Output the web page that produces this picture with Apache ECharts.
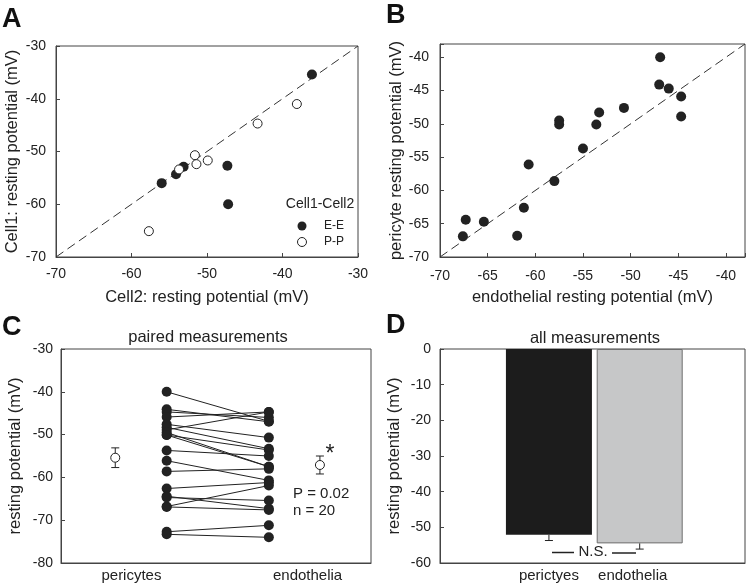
<!DOCTYPE html>
<html><head><meta charset="utf-8">
<script src="https://cdn.jsdelivr.net/npm/echarts@6/dist/echarts.min.js"></script>
<style>html,body{margin:0;padding:0;background:#fff}#c{width:748px;height:584px}</style>
</head><body><div id="c"></div>
<script>
// ---------- Panel A: cell pairs (Cell2 on x, Cell1 on y) ----------
const aEEx = [-36.1, -56.0, -54.1, -53.1, -47.3, -47.2];
const aEEy = [-35.4, -56.0, -54.3, -52.9, -52.7, -60.0];
const aPPx = [-38.1, -43.3, -51.6, -51.4, -49.9, -53.7, -57.7];
const aPPy = [-41.0, -44.7, -50.7, -52.4, -51.7, -53.4, -65.1];
const aIdentity = [-70, -30];
const aLegend = ['E-E', 'P-P'];

// ---------- Panels B & C: paired pericyte / endothelial measurements ----------
const pericyte    = [-40.0, -44.1, -44.7, -45.9, -48.9, -47.6, -48.3, -50.1, -49.5, -50.1, -53.7, -56.1, -58.6, -62.6, -66.8, -64.4, -64.7, -66.9, -72.7, -73.3];
const endothelial = [-46.9, -47.0, -46.0, -44.7, -44.7, -50.7, -53.3, -53.6, -57.5, -57.5, -55.0, -60.7, -58.0, -61.2, -61.9, -67.3, -65.4, -67.6, -71.2, -74.0];
const bIdentity = [-70, -38];

// Panel C layout positions on its hidden x scale
const cLabelX = [2, 7];
const cLabels = ['pericytes', 'endothelia'];
const cPairX = [3.0, 5.9];
const cMeanX = [1.54, 7.35];
const cMeans = [-55.4, -57.1];
const cSEM = [2.3, 2.1];

// ---------- Panel D: all measurements ----------
const dLabelX = [6, 11];
const dCategories = ['perictyes', 'endothelia'];
const dMeans = [-52.1, -54.5];
const dSEM = [1.6, 1.6];

const FONT = '"Liberation Sans", Arial, sans-serif';
const INK = '#222';
const FRAME = '#444';
const NAME_SIZE = 16.5;
const TICK_SIZE = 14;

function lab(margin, extra) {
  return Object.assign({ color: INK, fontSize: TICK_SIZE, fontFamily: FONT, margin: margin }, extra || {});
}
function axis(gi, min, max, interval, extra) {
  return Object.assign({
    type: 'value', gridIndex: gi, min: min, max: max, interval: interval,
    axisLine: { show: true, onZero: false, lineStyle: { color: FRAME, width: 1 } },
    axisTick: { show: true, inside: true, length: 4, lineStyle: { color: FRAME } },
    splitLine: { show: false },
    axisLabel: lab(10),
    nameLocation: 'middle',
    nameTextStyle: { color: INK, fontSize: NAME_SIZE, fontFamily: FONT }
  }, extra || {});
}
const mult5 = v => (Math.round(v) % 5 === 0 ? String(v) : '');

const grids = [
  { left: 56, top: 46, width: 302, height: 211 },
  { left: 440, top: 44, width: 305, height: 213 },
  { left: 61, top: 349, width: 310, height: 214 },
  { left: 440, top: 349, width: 305, height: 214 }
].map(g => Object.assign({ show: true, borderColor: FRAME, borderWidth: 1, backgroundColor: 'transparent' }, g));

const xAxes = [
  axis(0, -70, -30, 10, { name: 'Cell2: resting potential (mV)', nameGap: 32, axisLabel: lab(10) }),
  axis(1, -70, -38, 5, { name: 'endothelial resting potential (mV)', nameGap: 32, axisLabel: lab(12, { formatter: mult5 }) }),
  axis(2, 0, 8.8, 1, { axisTick: { show: false },
    axisLabel: lab(5, { fontSize: 15,
      formatter: v => { const i = cLabelX.indexOf(Math.round(v * 100) / 100); return i >= 0 ? cLabels[i] : ''; } }) }),
  axis(3, 0, 16.8, 1, { axisTick: { show: false },
    axisLabel: lab(5, { fontSize: 15,
      formatter: v => { const i = dLabelX.indexOf(Math.round(v * 100) / 100); return i === 1 ? '{e|' + dCategories[i] + '}' : (i === 0 ? dCategories[i] : ''); },
      rich: { e: { fontSize: 15, fontFamily: FONT, color: INK, padding: [0, 14, 0, 0] } } }) })
];
const yAxes = [
  axis(0, -70, -30, 10, { name: 'Cell1: resting potential (mV)', nameGap: 35, axisLabel: lab(10) }),
  axis(1, -70, -38, 5, { name: 'pericyte resting potential (mV)', nameGap: 29, axisLabel: lab(11, { formatter: mult5 }) }),
  axis(2, -80, -30, 10, { name: 'resting potential (mV)', nameGap: 37, axisLabel: lab(8) }),
  axis(3, -60, 0, 10, { name: 'resting potential (mV)', nameGap: 37, axisLabel: lab(9) })
];

const filled = { color: INK, opacity: 1 };
const open = { color: '#fff', borderColor: INK, borderWidth: 1, opacity: 1 };
const dashed = { color: '#333', width: 1, type: [9, 5] };

function errRender(caps) {
  return function (params, api) {
    const x = api.value(0);
    const p0 = api.coord([x, api.value(1)]);
    const p1 = api.coord([x, api.value(2)]);
    const w = 4;
    const st = { stroke: INK, lineWidth: 1 };
    const ch = [{ type: 'line', shape: { x1: p0[0], y1: p0[1], x2: p1[0], y2: p1[1] }, style: st }];
    if (caps === 2) ch.push({ type: 'line', shape: { x1: p0[0] - w, y1: p0[1], x2: p0[0] + w, y2: p0[1] }, style: st });
    ch.push({ type: 'line', shape: { x1: p1[0] - w, y1: p1[1], x2: p1[0] + w, y2: p1[1] }, style: st });
    return { type: 'group', children: ch };
  };
}

const series = [];
// A
series.push({ type: 'line', xAxisIndex: 0, yAxisIndex: 0, data: [[aIdentity[0], aIdentity[0]], [aIdentity[1], aIdentity[1]]],
  showSymbol: false, lineStyle: dashed, silent: true, z: 1 });
series.push({ name: aLegend[0], type: 'scatter', xAxisIndex: 0, yAxisIndex: 0, symbolSize: 10,
  data: aEEx.map((x, i) => [x, aEEy[i]]), itemStyle: filled, z: 3 });
series.push({ name: aLegend[1], type: 'scatter', xAxisIndex: 0, yAxisIndex: 0, symbolSize: 9,
  data: aPPx.map((x, i) => [x, aPPy[i]]), itemStyle: open, z: 4 });
// B
series.push({ type: 'line', xAxisIndex: 1, yAxisIndex: 1, data: [[bIdentity[0], bIdentity[0]], [bIdentity[1], bIdentity[1]]],
  showSymbol: false, lineStyle: dashed, silent: true, z: 1 });
series.push({ type: 'scatter', xAxisIndex: 1, yAxisIndex: 1, symbolSize: 10, clip: true,
  data: endothelial.map((x, i) => [x, pericyte[i]]), itemStyle: filled, z: 3 });
// C paired lines
pericyte.forEach((p, i) => {
  series.push({ type: 'line', xAxisIndex: 2, yAxisIndex: 2, data: [[cPairX[0], p], [cPairX[1], endothelial[i]]],
    showSymbol: false, lineStyle: { color: INK, width: 1 }, silent: true, z: 2 });
});
series.push({ type: 'scatter', xAxisIndex: 2, yAxisIndex: 2, symbolSize: 10, itemStyle: filled, z: 3,
  data: pericyte.map(p => [cPairX[0], p]).concat(endothelial.map(e => [cPairX[1], e])) });
series.push({ type: 'custom', xAxisIndex: 2, yAxisIndex: 2, renderItem: errRender(2), z: 3,
  data: cMeans.map((m, i) => [cMeanX[i], m - cSEM[i], m + cSEM[i]]) });
series.push({ type: 'scatter', xAxisIndex: 2, yAxisIndex: 2, symbolSize: 9, itemStyle: open, z: 4,
  data: cMeans.map((m, i) => [cMeanX[i], m]) });
// D bars
const dStyles = [{ color: '#1c1c1c' }, { color: '#c6c7c8', borderColor: '#6e6e6e', borderWidth: 1 }];
series.push({ type: 'bar', xAxisIndex: 3, yAxisIndex: 3, barWidth: 86, z: 2,
  data: dMeans.map((m, i) => ({ value: [dLabelX[i], m], itemStyle: dStyles[i] })) });
series.push({ type: 'custom', xAxisIndex: 3, yAxisIndex: 3, renderItem: errRender(1), z: 3,
  data: dMeans.map((m, i) => [dLabelX[i], m, m - dSEM[i]]) });

function txt(x, y, s, size, opts) {
  return { type: 'text', x: x, y: y, z: 100, silent: true,
    style: Object.assign({ text: s, fill: INK, fontSize: size, fontFamily: FONT, align: 'left', verticalAlign: 'middle' }, opts || {}) };
}
const graphics = [
  txt(2, 20, 'A', 27, { fontWeight: 'bold', fill: '#111' }),
  txt(386, 16, 'B', 27, { fontWeight: 'bold', fill: '#111' }),
  txt(2, 328, 'C', 27, { fontWeight: 'bold', fill: '#111' }),
  txt(386, 326, 'D', 27, { fontWeight: 'bold', fill: '#111' }),
  txt(320, 204, 'Cell1-Cell2', 14, { align: 'center' }),
  txt(208, 337, 'paired measurements', NAME_SIZE, { align: 'center' }),
  txt(595, 338, 'all measurements', NAME_SIZE, { align: 'center' }),
  txt(330, 455, '*', 23, { align: 'center' }),
  txt(293, 494, 'P = 0.02', 15),
  txt(293, 511, 'n = 20', 15),
  txt(593, 552, 'N.S.', 15, { align: 'center' }),
  { type: 'line', z: 100, silent: true, shape: { x1: 552, y1: 552.5, x2: 574, y2: 552.5 }, style: { stroke: INK, lineWidth: 1.5 } },
  { type: 'line', z: 100, silent: true, shape: { x1: 612, y1: 553, x2: 636, y2: 553 }, style: { stroke: INK, lineWidth: 1.5 } }
];

const chart = echarts.init(document.getElementById('c'), null, { renderer: 'canvas' });
chart.setOption({
  animation: false,
  backgroundColor: '#fff',
  textStyle: { fontFamily: FONT },
  grid: grids,
  xAxis: xAxes,
  yAxis: yAxes,
  legend: { data: aLegend, orient: 'vertical', left: 292, top: 215, itemWidth: 34, itemHeight: 9, itemGap: 4,
    selectedMode: false, itemStyle: { borderWidth: 1 },
    textStyle: { color: INK, fontSize: 12, fontFamily: FONT } },
  series: series,
  graphic: graphics
});
</script></body></html>
